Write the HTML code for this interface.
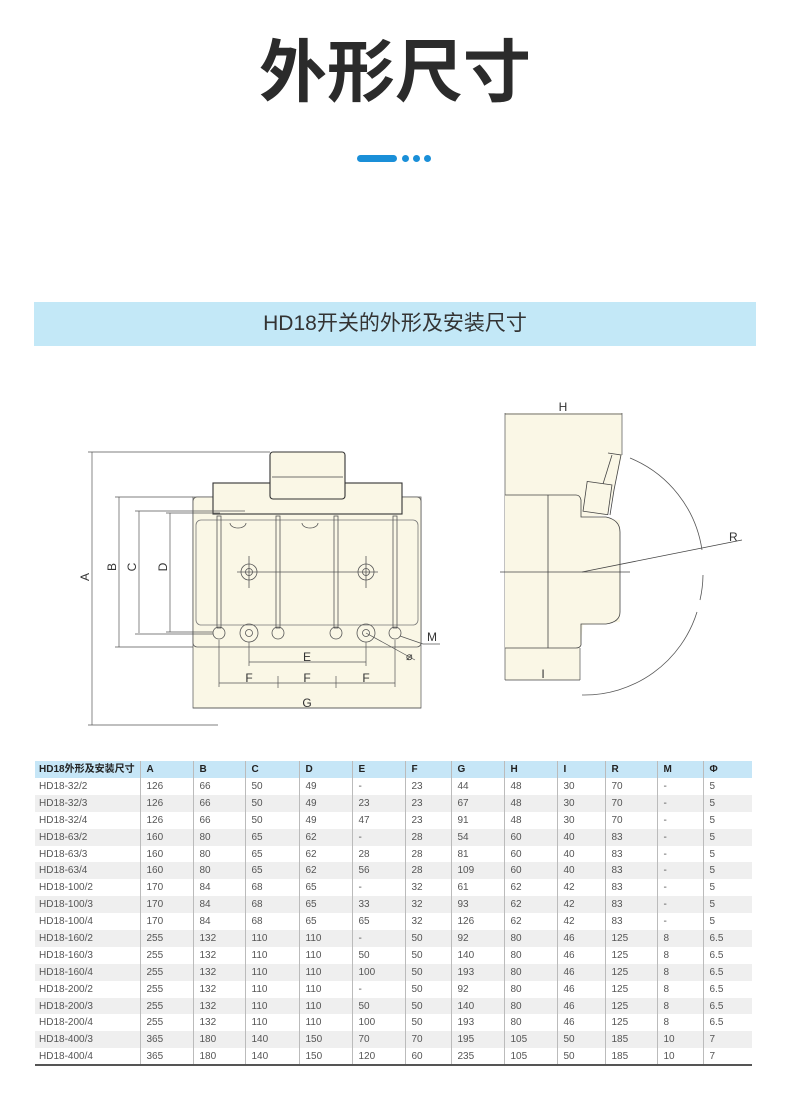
<!DOCTYPE html>
<html><head><meta charset="utf-8"><style>
*{margin:0;padding:0;box-sizing:border-box}
body{width:790px;height:1109px;background:#fff;position:relative;overflow:hidden;font-family:"Liberation Sans","Noto Sans CJK SC",sans-serif}
.title{position:absolute;left:0;width:790px;top:22px;text-align:center;font-size:68px;font-weight:bold;color:#2b2b2b;line-height:90px;font-family:"Noto Sans CJK SC",sans-serif}
.banner{position:absolute;left:34px;top:302px;width:722px;height:44px;background:#c3e8f7;text-align:center;font-size:21px;line-height:44px;color:#333;font-family:"Liberation Sans","Noto Sans CJK SC",sans-serif}
table{position:absolute;left:35px;top:761px;width:717px;border-collapse:collapse;font-size:10px;color:#555;font-family:"Liberation Sans","Noto Sans CJK SC",sans-serif}
td{height:16.9px;padding:0 0 0 6px;border-left:1px solid #bbb;white-space:nowrap;line-height:15px}
td:first-child{border-left:none;padding-left:4px}
tr.h td{background:#c6e6f7;color:#222;font-weight:bold;height:17px}
tr.g td{background:#efefef}
tr:last-child td{border-bottom:2px solid #555}
</style></head><body>
<div class="title">外形尺寸</div>
<div style="position:absolute;left:357px;top:155px;width:40px;height:7px;border-radius:4px;background:#1a8fd8"></div>
<div style="position:absolute;left:402px;top:155px;width:7px;height:7px;border-radius:50%;background:#1a8fd8"></div>
<div style="position:absolute;left:413px;top:155px;width:7px;height:7px;border-radius:50%;background:#1a8fd8"></div>
<div style="position:absolute;left:424px;top:155px;width:7px;height:7px;border-radius:50%;background:#1a8fd8"></div>
<div class="banner">HD18开关的外形及安装尺寸</div>

<svg style="position:absolute;left:0;top:0" width="790" height="1109" font-family="Liberation Sans,sans-serif" font-size="12" fill="none" stroke="#444" stroke-width="0.8">
<!-- front view -->
<rect x="193" y="497" width="228" height="211" fill="#faf7e6" stroke="#666"/>
<rect x="193" y="497" width="228" height="150" rx="4" fill="#faf7e6" stroke="#555"/>
<rect x="196" y="520" width="222" height="105" rx="5" fill="#faf7e6" stroke="#777"/>
<rect x="213" y="483" width="189" height="31" fill="#faf7e6" stroke="#333" stroke-width="1.1"/>
<rect x="270" y="452" width="75" height="47" rx="3" fill="#faf7e6" stroke="#333" stroke-width="1.1"/>
<line x1="272" y1="477" x2="343" y2="477"/>
<g stroke="#555">
<rect x="217" y="516" width="4" height="112"/><rect x="276" y="516" width="4" height="112"/>
<rect x="334" y="516" width="4" height="112"/><rect x="393" y="516" width="4" height="112"/>
<circle cx="249" cy="572" r="8"/><circle cx="249" cy="572" r="3.5"/>
<circle cx="366" cy="572" r="8"/><circle cx="366" cy="572" r="3.5"/>
<line x1="237" y1="572" x2="378" y2="572"/><line x1="249" y1="556" x2="249" y2="588"/><line x1="366" y1="556" x2="366" y2="588"/>
<circle cx="219" cy="633" r="6"/><circle cx="278" cy="633" r="6"/><circle cx="336" cy="633" r="6"/><circle cx="395" cy="633" r="6"/>
<circle cx="249" cy="633" r="9"/><circle cx="249" cy="633" r="3.5"/>
<circle cx="366" cy="633" r="9"/><circle cx="366" cy="633" r="3.5"/>
<path d="M230 523a8 5 0 0 0 16 0M302 523a8 5 0 0 0 16 0"/>
</g>
<g stroke="#555" stroke-width="0.7">
<line x1="92" y1="452" x2="92" y2="725"/><line x1="88" y1="452" x2="270" y2="452"/><line x1="88" y1="725" x2="218" y2="725"/>
<line x1="119" y1="497" x2="119" y2="647"/><line x1="115" y1="497" x2="193" y2="497"/><line x1="115" y1="647" x2="193" y2="647"/>
<line x1="139" y1="511" x2="139" y2="633"/><line x1="135" y1="511" x2="245" y2="511"/><line x1="135" y1="634" x2="213" y2="634"/>
<line x1="170" y1="513" x2="170" y2="632"/><line x1="166" y1="513" x2="220" y2="513"/><line x1="166" y1="632" x2="213" y2="632"/>
<line x1="249" y1="642" x2="249" y2="666"/><line x1="366" y1="642" x2="366" y2="666"/><line x1="249" y1="662" x2="366" y2="662"/>
<line x1="219" y1="640" x2="219" y2="687"/><line x1="395" y1="640" x2="395" y2="687"/><line x1="219" y1="683" x2="395" y2="683"/>
<line x1="278" y1="676" x2="278" y2="688"/><line x1="336" y1="676" x2="336" y2="688"/>
<line x1="193" y1="708" x2="421" y2="708"/>
<line x1="400" y1="636" x2="423" y2="644"/><line x1="423" y1="644" x2="440" y2="644"/>
<line x1="366" y1="633" x2="415" y2="660"/>
</g>
<g fill="#333" stroke="none" font-size="12">
<text x="92" y="577" transform="rotate(-90 92 577)" text-anchor="middle" dy="-3">A</text>
<text x="119" y="567" transform="rotate(-90 119 567)" text-anchor="middle" dy="-3">B</text>
<text x="139" y="567" transform="rotate(-90 139 567)" text-anchor="middle" dy="-3">C</text>
<text x="170" y="567" transform="rotate(-90 170 567)" text-anchor="middle" dy="-3">D</text>
<text x="307" y="661" text-anchor="middle">E</text>
<text x="249" y="682" text-anchor="middle">F</text>
<text x="307" y="682" text-anchor="middle">F</text>
<text x="366" y="682" text-anchor="middle">F</text>
<text x="307" y="707" text-anchor="middle">G</text>
<text x="427" y="641">M</text>
<text x="406" y="660" font-size="11">⌀</text>
</g>
<!-- side view -->
<path d="M505 413H622V455L614 490 608 515 583 517 620 520V622L583 625 580 648V680H505Z" fill="#faf7e6" stroke="none"/>
<path d="M505 413V648" stroke="#666"/>
<path d="M622 413V455" stroke="#666"/>
<path d="M505 495H576Q580 495 581 500V517H606Q620 520 620 532V612Q620 622 606 624H581V645Q580 648 576 648H505" fill="#faf7e6" stroke="#444"/>
<path d="M505 648V680M580 648V680" stroke="#666"/>
<path d="M608 453L621 455 614 490 610 515" stroke="#444"/>
<path d="M612 455L603 484" stroke="#444"/>
<rect x="585" y="483" width="25" height="30" transform="rotate(8 597 498)" fill="#faf7e6" stroke="#444"/>
<line x1="548" y1="495" x2="548" y2="648"/>
<line x1="500" y1="572" x2="630" y2="572"/>
<line x1="582" y1="572" x2="742" y2="540"/>
<line x1="505" y1="414" x2="622" y2="414"/>
<line x1="505" y1="680" x2="580" y2="680"/>
<path d="M630 458A118 118 0 0 1 702 550" stroke="#555"/>
<path d="M703 575A118 118 0 0 1 700 600" stroke="#555"/>
<path d="M697 612A118 118 0 0 1 582 695" stroke="#555"/>
<g fill="#333" stroke="none" font-size="12">
<text x="563" y="411" text-anchor="middle">H</text>
<text x="543" y="678" text-anchor="middle">I</text>
<text x="729" y="541">R</text>
</g>
</svg>

<table>
<tr class="h"><td style="width:105px">HD18外形及安装尺寸</td><td style="width:53px">A</td><td style="width:52px">B</td><td style="width:54px">C</td><td style="width:53px">D</td><td style="width:53px">E</td><td style="width:46px">F</td><td style="width:53px">G</td><td style="width:53px">H</td><td style="width:48px">I</td><td style="width:52px">R</td><td style="width:46px">M</td><td>Φ</td></tr>
<tr><td>HD18-32/2</td><td>126</td><td>66</td><td>50</td><td>49</td><td>-</td><td>23</td><td>44</td><td>48</td><td>30</td><td>70</td><td>-</td><td>5</td></tr>
<tr class="g"><td>HD18-32/3</td><td>126</td><td>66</td><td>50</td><td>49</td><td>23</td><td>23</td><td>67</td><td>48</td><td>30</td><td>70</td><td>-</td><td>5</td></tr>
<tr><td>HD18-32/4</td><td>126</td><td>66</td><td>50</td><td>49</td><td>47</td><td>23</td><td>91</td><td>48</td><td>30</td><td>70</td><td>-</td><td>5</td></tr>
<tr class="g"><td>HD18-63/2</td><td>160</td><td>80</td><td>65</td><td>62</td><td>-</td><td>28</td><td>54</td><td>60</td><td>40</td><td>83</td><td>-</td><td>5</td></tr>
<tr><td>HD18-63/3</td><td>160</td><td>80</td><td>65</td><td>62</td><td>28</td><td>28</td><td>81</td><td>60</td><td>40</td><td>83</td><td>-</td><td>5</td></tr>
<tr class="g"><td>HD18-63/4</td><td>160</td><td>80</td><td>65</td><td>62</td><td>56</td><td>28</td><td>109</td><td>60</td><td>40</td><td>83</td><td>-</td><td>5</td></tr>
<tr><td>HD18-100/2</td><td>170</td><td>84</td><td>68</td><td>65</td><td>-</td><td>32</td><td>61</td><td>62</td><td>42</td><td>83</td><td>-</td><td>5</td></tr>
<tr class="g"><td>HD18-100/3</td><td>170</td><td>84</td><td>68</td><td>65</td><td>33</td><td>32</td><td>93</td><td>62</td><td>42</td><td>83</td><td>-</td><td>5</td></tr>
<tr><td>HD18-100/4</td><td>170</td><td>84</td><td>68</td><td>65</td><td>65</td><td>32</td><td>126</td><td>62</td><td>42</td><td>83</td><td>-</td><td>5</td></tr>
<tr class="g"><td>HD18-160/2</td><td>255</td><td>132</td><td>110</td><td>110</td><td>-</td><td>50</td><td>92</td><td>80</td><td>46</td><td>125</td><td>8</td><td>6.5</td></tr>
<tr><td>HD18-160/3</td><td>255</td><td>132</td><td>110</td><td>110</td><td>50</td><td>50</td><td>140</td><td>80</td><td>46</td><td>125</td><td>8</td><td>6.5</td></tr>
<tr class="g"><td>HD18-160/4</td><td>255</td><td>132</td><td>110</td><td>110</td><td>100</td><td>50</td><td>193</td><td>80</td><td>46</td><td>125</td><td>8</td><td>6.5</td></tr>
<tr><td>HD18-200/2</td><td>255</td><td>132</td><td>110</td><td>110</td><td>-</td><td>50</td><td>92</td><td>80</td><td>46</td><td>125</td><td>8</td><td>6.5</td></tr>
<tr class="g"><td>HD18-200/3</td><td>255</td><td>132</td><td>110</td><td>110</td><td>50</td><td>50</td><td>140</td><td>80</td><td>46</td><td>125</td><td>8</td><td>6.5</td></tr>
<tr><td>HD18-200/4</td><td>255</td><td>132</td><td>110</td><td>110</td><td>100</td><td>50</td><td>193</td><td>80</td><td>46</td><td>125</td><td>8</td><td>6.5</td></tr>
<tr class="g"><td>HD18-400/3</td><td>365</td><td>180</td><td>140</td><td>150</td><td>70</td><td>70</td><td>195</td><td>105</td><td>50</td><td>185</td><td>10</td><td>7</td></tr>
<tr><td>HD18-400/4</td><td>365</td><td>180</td><td>140</td><td>150</td><td>120</td><td>60</td><td>235</td><td>105</td><td>50</td><td>185</td><td>10</td><td>7</td></tr>
</table>
</body></html>
